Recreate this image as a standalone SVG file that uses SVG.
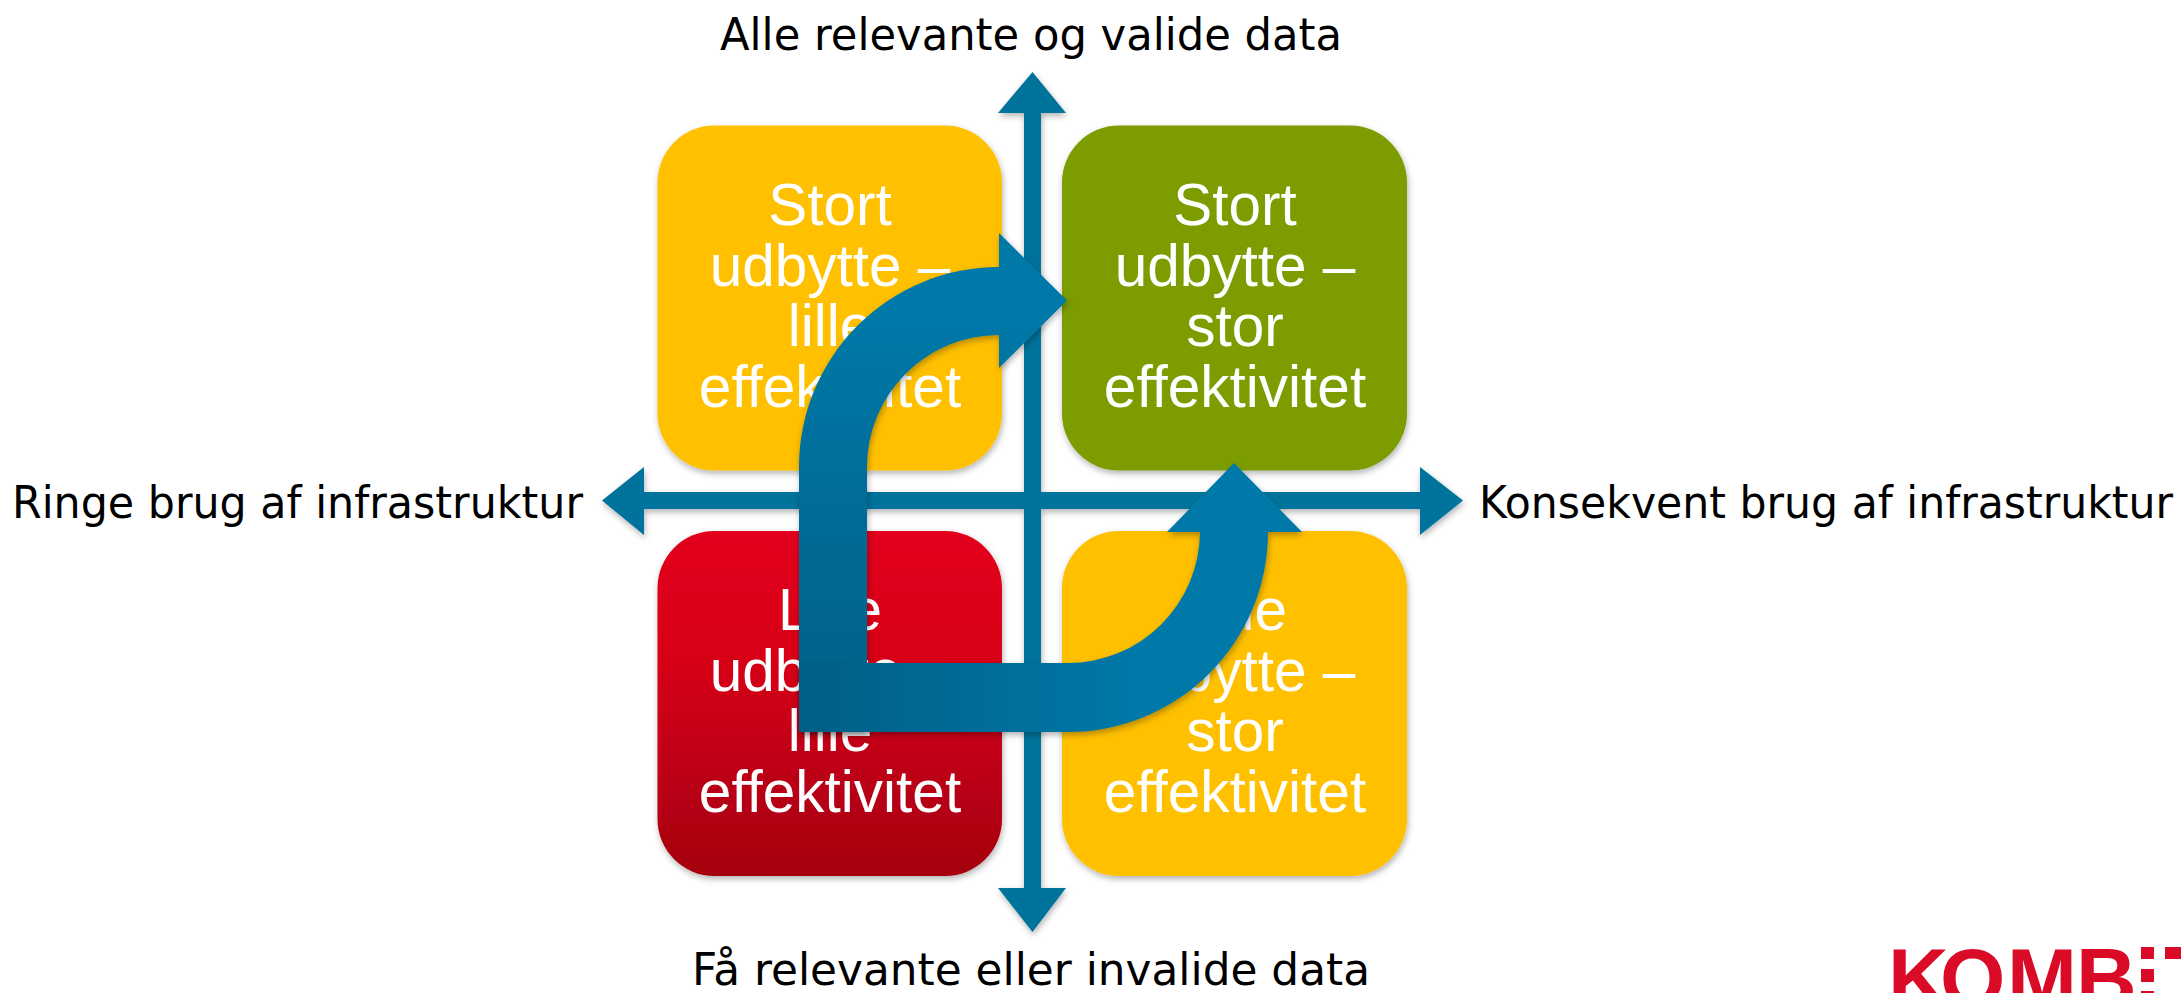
<svg xmlns="http://www.w3.org/2000/svg" width="2181" height="993" viewBox="0 0 2181 993">
<style>
.box text{font-family:"Liberation Sans",Arial,sans-serif;font-size:58.500px;fill:#fff;text-anchor:middle;font-variant-ligatures:none}
.lab{font-family:"DejaVu Sans",sans-serif;font-size:45px;fill:#000;font-variant-ligatures:none}
.axis{fill:#00739c}
.logo{font-family:"Liberation Sans",Arial,sans-serif;font-weight:bold;font-size:84px;fill:#d90b27}
</style>
<defs>
<linearGradient id="red" x1="0" y1="0" x2="0" y2="1"><stop offset="0" stop-color="#e2001a"/><stop offset=".35" stop-color="#d80019"/><stop offset="1" stop-color="#a5000f"/></linearGradient>
<linearGradient id="up" gradientUnits="userSpaceOnUse" x1="0" y1="730" x2="0" y2="300"><stop offset="0" stop-color="#005f86"/><stop offset="1" stop-color="#0079a9"/></linearGradient>
<linearGradient id="right" gradientUnits="userSpaceOnUse" x1="799" y1="0" x2="1150" y2="0"><stop offset="0" stop-color="#005f86"/><stop offset="1" stop-color="#0079a9"/></linearGradient>
<filter id="sh" x="-10%" y="-10%" width="120%" height="120%"><feDropShadow dx="1" dy="3" stdDeviation="3" flood-color="#000" flood-opacity=".3"/></filter>
</defs>
<g id="axes" filter="url(#sh)">
<path class="axis" d="M1032.500 72L1066 113H1041V492H1420V467L1463 500.500L1420 535V509H1041V888H1066L1032.500 932L998 888H1024V509H644V535L602 500.500L644 467V492H1024V113H998Z"/>
</g>
<g id="node-tl" class="box"><rect x="657.500" y="125.500" width="344.500" height="345" rx="57" fill="#ffc000" filter="url(#sh)"/><text><tspan x="830" y="225">Stort</tspan><tspan x="830" y="286">udbytte –</tspan><tspan x="830" y="346">lille</tspan><tspan x="830" y="407">effektivitet</tspan></text></g>
<g id="node-tr" class="box"><rect x="1062" y="125.500" width="345" height="345" rx="57" fill="#7c9c00" filter="url(#sh)"/><text><tspan x="1235" y="225">Stort</tspan><tspan x="1235" y="286">udbytte –</tspan><tspan x="1235" y="346">stor</tspan><tspan x="1235" y="407">effektivitet</tspan></text></g>
<g id="node-bl" class="box"><rect x="657.500" y="531" width="344.500" height="345" rx="57" fill="url(#red)" filter="url(#sh)"/><text><tspan x="830" y="630">Lille</tspan><tspan x="830" y="691">udbytte –</tspan><tspan x="830" y="751">lille</tspan><tspan x="830" y="812">effektivitet</tspan></text></g>
<g id="node-br" class="box"><rect x="1062" y="531" width="345" height="345" rx="57" fill="#ffc000" filter="url(#sh)"/><text><tspan x="1235" y="630">Lille</tspan><tspan x="1235" y="691">udbytte –</tspan><tspan x="1235" y="751">stor</tspan><tspan x="1235" y="812">effektivitet</tspan></text></g>
<g id="connectors">
<path fill="url(#up)" filter="url(#sh)" d="M799 732V467A200 200 0 0 1 999 267V233L1067 300.500L999 368V335A132 132 0 0 0 867 467V732Z"/>
<path fill="url(#right)" filter="url(#sh)" d="M799 732H1068A200 200 0 0 0 1268 532H1302L1234 463L1167 532H1200A132 132 0 0 1 1068 663H799Z"/>
</g>
<g id="labels">
<text class="lab" x="720" y="50" textLength="622" lengthAdjust="spacingAndGlyphs">Alle relevante og valide data</text>
<text class="lab" x="12" y="518" textLength="571" lengthAdjust="spacingAndGlyphs">Ringe brug af infrastruktur</text>
<text class="lab" x="1479" y="518" textLength="694" lengthAdjust="spacingAndGlyphs">Konsekvent brug af infrastruktur</text>
<text class="lab" x="692" y="985" textLength="678" lengthAdjust="spacingAndGlyphs">Få relevante eller invalide data</text>
</g>
<g id="logo">
<text class="logo" x="1888 1940 2007 2076" y="1007">KOMB</text>
<rect x="2141" y="947" width="13" height="12" fill="#d90b27"/><rect x="2141" y="969" width="13" height="13" fill="#d90b27"/><rect x="2141" y="991" width="13" height="2" fill="#d90b27"/>
<rect x="2165" y="947" width="16" height="12" fill="#d90b27"/>
</g>
</svg>
